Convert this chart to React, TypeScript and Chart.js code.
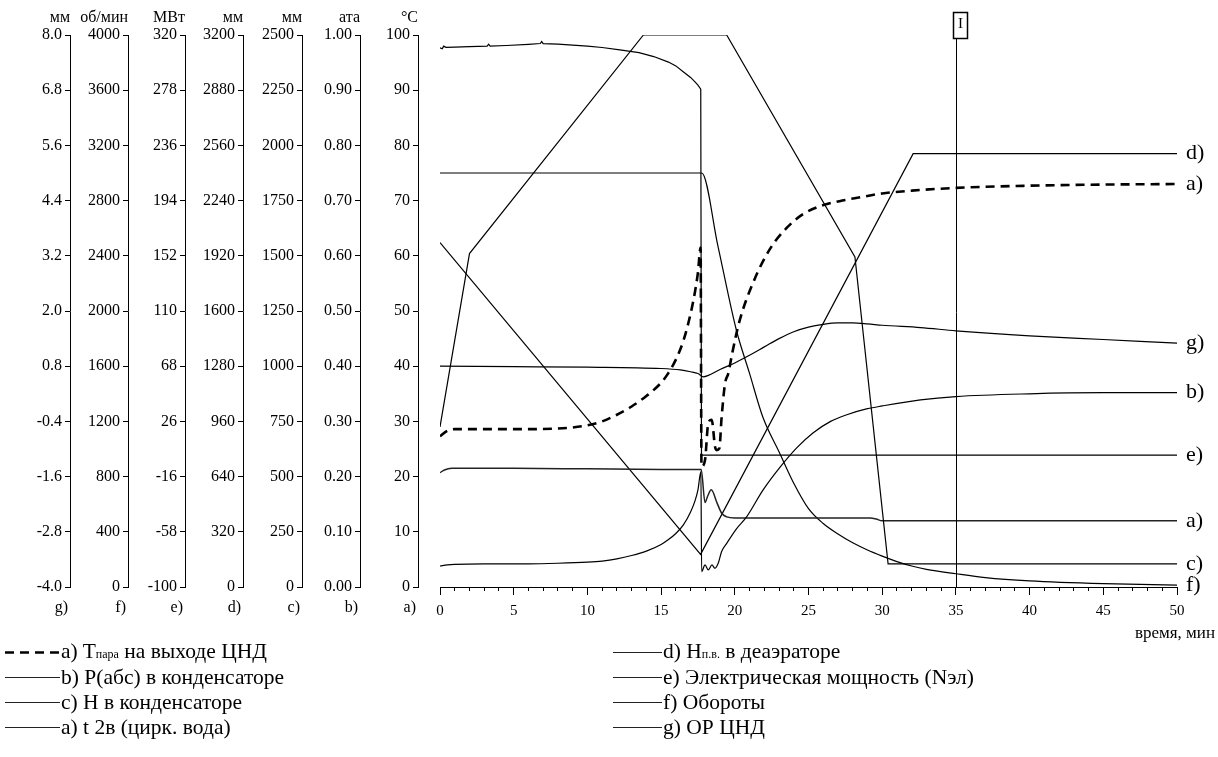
import React, { useEffect, useRef } from "react";
import { Chart, registerables } from "chart.js";
Chart.register(...registerables);

const FONT = "'Liberation Serif', 'Times New Roman', serif";

// ---- axis tick labels ----
const timeTicks = [0, 5, 10, 15, 20, 25, 30, 35, 40, 45, 50];
const timeMinorTicks = Array.from({ length: 51 }, (_, i) => i);
const gTicks = [-4.0, -2.8, -1.6, -0.4, 0.8, 2.0, 3.2, 4.4, 5.6, 6.8, 8.0];
const fTicks = [0, 400, 800, 1200, 1600, 2000, 2400, 2800, 3200, 3600, 4000];
const eTicks = [-100, -58, -16, 26, 68, 110, 152, 194, 236, 278, 320];
const dTicks = [0, 320, 640, 960, 1280, 1600, 1920, 2240, 2560, 2880, 3200];
const cTicks = [0, 250, 500, 750, 1000, 1250, 1500, 1750, 2000, 2250, 2500];
const bTicks = [0, 0.1, 0.2, 0.3, 0.4, 0.5, 0.6, 0.7, 0.8, 0.9, 1.0];
const aTicks = [0, 10, 20, 30, 40, 50, 60, 70, 80, 90, 100];

// ---- series ----
// a) T пара на выходе ЦНД, °C
const steamTime = [0, 0.5, 1, 3, 6, 8, 9, 10, 11, 12, 13, 14, 15, 15.5, 16, 16.5, 17, 17.3, 17.5, 17.68, 17.74, 17.98, 18.2, 18.43, 18.66, 18.77, 18.95, 19.11, 19.34, 19.56, 19.8, 20.3, 21.3, 22.4, 23.5, 24.6, 25.8, 27.1, 28.5, 30, 32, 35, 40, 45, 50];
const steamTemp = [27.3, 28.3, 28.6, 28.6, 28.6, 28.7, 28.9, 29.3, 30.0, 31.2, 32.7, 34.6, 37.0, 38.8, 41.2, 44.5, 49.5, 53.5, 57.0, 61.5, 21.8, 23.0, 29.7, 30.3, 25.4, 24.8, 25.1, 30.9, 36.9, 38.7, 42.0, 48.0, 55.5, 61.3, 65.0, 67.5, 69.0, 69.9, 70.6, 71.3, 71.8, 72.3, 72.7, 72.9, 73.0];
// b) P(абс) в конденсаторе, ата
const presTime = [0, 0.5, 1, 3, 6, 8, 10, 11, 12, 13, 14, 15, 15.5, 16, 16.5, 17, 17.3, 17.5, 17.7, 17.75, 17.98, 18.2, 18.45, 18.65, 18.9, 19.1, 19.45, 20.1, 20.8, 21.9, 23.1, 24.2, 25.3, 26.5, 27.6, 29.0, 30.0, 32.6, 35, 40, 45, 50];
const presAta = [0.038, 0.040, 0.041, 0.042, 0.042, 0.043, 0.045, 0.047, 0.051, 0.057, 0.065, 0.077, 0.086, 0.097, 0.112, 0.136, 0.156, 0.176, 0.209, 0.028, 0.040, 0.031, 0.040, 0.034, 0.045, 0.064, 0.079, 0.105, 0.127, 0.175, 0.218, 0.252, 0.279, 0.300, 0.312, 0.323, 0.328, 0.339, 0.345, 0.350, 0.352, 0.352];
// c) H в конденсаторе, мм
const levelTime = [0, 2, 13.8, 19.45, 28.15, 30.4, 50];
const levelMm = [725, 1510, 2500, 2500, 1495, 105, 105];
// a) t 2в (цирк. вода), °C
const waterTime = [0, 0.3, 0.8, 5, 10, 15, 17, 17.72, 17.98, 18.15, 18.4, 18.8, 19.1, 19.45, 20, 25, 29.2, 29.6, 30.0, 35, 40, 50];
const waterTemp = [20.7, 21.2, 21.5, 21.5, 21.4, 21.3, 21.3, 21.3, 15.3, 16.4, 17.6, 15.2, 13.4, 12.7, 12.5, 12.5, 12.5, 12.3, 12.0, 12.0, 12.0, 12.0];
// d) H п.в. в деаэраторе, мм
const deaTime = [0, 17.68, 32.1, 50];
const deaMm = [1997, 189, 2512, 2512];
// e) Электрическая мощность, МВт
const powerTime = [0, 0.15, 0.25, 0.4, 1, 2, 3.2, 3.3, 3.4, 4.5, 6, 6.8, 6.9, 7.0, 8, 10, 11, 12.2, 13.5, 14.5, 15.5, 16, 16.5, 17, 17.3, 17.5, 17.69, 17.74, 50];
const powerMw = [310.3, 309.5, 311.5, 310.6, 310.8, 311.2, 311.6, 313.0, 311.6, 312.0, 312.9, 313.5, 315.0, 313.5, 313.0, 311.6, 310.5, 308.7, 306.6, 303.6, 299.4, 296.5, 292.1, 287.7, 284.3, 281.8, 278.8, 0.4, 0.4];
// f) Обороты, об/мин
const rpmTime = [0, 17.76, 18.86, 20.1, 21, 21.9, 23, 24, 25, 26, 27, 28, 29, 30, 31, 32, 33, 35, 37, 40, 45, 50];
const rpmVal = [3000, 3000, 2468, 1864, 1548, 1232, 980, 752, 568, 460, 384, 320, 268, 224, 184, 152, 128, 96, 68, 44, 24, 14];
// g) ОР ЦНД, мм
const expTime = [0, 5, 10, 15, 16.3, 17, 17.5, 17.86, 18.2, 19, 20, 21, 22, 23, 24, 25, 26, 27, 28, 29, 30, 32.6, 35, 40, 45, 50];
const expMm = [0.80, 0.79, 0.78, 0.75, 0.72, 0.68, 0.64, 0.57, 0.60, 0.73, 0.87, 1.04, 1.22, 1.40, 1.55, 1.65, 1.71, 1.74, 1.74, 1.72, 1.69, 1.64, 1.57, 1.46, 1.38, 1.30];

const markerTime = 35;
const markerLabel = "I";

const axisUnits = ["мм", "об/мин", "МВт", "мм", "мм", "ата", "°C"];
const axisLetters = ["g)", "f)", "e)", "d)", "c)", "b)", "a)"];
const axisIds = ["yG", "yF", "yE", "yD", "yC", "yB", "yA"];
const axisWidths = [70, 58, 57, 58, 59, 58, 58];

const pts = (t: number[], v: number[]) => t.map((x, i) => ({ x, y: v[i] }));

const yAxis = (ticks: number[], decimals: number, weight: number, width: number) => ({
  type: "linear",
  position: "left",
  weight,
  min: ticks[0],
  max: ticks[ticks.length - 1],
  afterBuildTicks: (s: any) => {
    s.ticks = ticks.map((v) => ({ value: v }));
  },
  afterFit: (s: any) => {
    s.width = width;
  },
  ticks: {
    autoSkip: false,
    padding: 3,
    color: "#000",
    font: { family: FONT, size: 16 },
    callback: (v: any) => Number(v).toFixed(decimals),
  },
  grid: { drawOnChartArea: false, tickLength: 5, color: "#000", lineWidth: 1 },
  border: { display: true, color: "#000", width: 1 },
});

const annotPlugin = {
  id: "annot",
  afterDraw(chart: any) {
    const ctx = chart.ctx;
    const area = chart.chartArea;
    ctx.save();
    ctx.fillStyle = "#000";
    ctx.strokeStyle = "#000";
    // units & letters
    axisIds.forEach((id, i) => {
      const s = chart.scales[id];
      ctx.textAlign = "right";
      ctx.textBaseline = "alphabetic";
      ctx.font = `16px ${FONT}`;
      ctx.fillText(axisUnits[i], s.right, 22);
      ctx.fillText(axisLetters[i], s.right - 2, 612);
    });
    // end labels
    ctx.font = `22px ${FONT}`;
    ctx.textAlign = "left";
    ctx.textBaseline = "middle";
    chart.data.datasets.forEach((ds: any) => {
      const last = ds.data[ds.data.length - 1];
      const y = chart.scales[ds.yAxisID].getPixelForValue(last.y);
      ctx.fillText(ds.endLabel, area.right + 9, y);
    });
    // marker
    const mx = Math.round(chart.scales.x.getPixelForValue(markerTime)) + 0.5;
    ctx.lineWidth = 1;
    ctx.beginPath();
    ctx.moveTo(mx, 38);
    ctx.lineTo(mx, area.bottom);
    ctx.stroke();
    ctx.lineWidth = 1.5;
    ctx.strokeRect(mx - 3, 12.5, 14, 26);
    ctx.font = `15px ${FONT}`;
    ctx.textAlign = "center";
    ctx.textBaseline = "middle";
    ctx.fillText(markerLabel, mx + 4, 24);
    // time title
    ctx.font = `17px ${FONT}`;
    ctx.textAlign = "right";
    ctx.fillText("время, мин", 1215, 634);
    ctx.restore();
  },
};

const legendLeft = [
  { dashed: true, pre: "a) T", sub: "пара", post: " на выходе ЦНД" },
  { dashed: false, pre: "b) P(абс) в конденсаторе", sub: "", post: "" },
  { dashed: false, pre: "c) H в конденсаторе", sub: "", post: "" },
  { dashed: false, pre: "a) t 2в (цирк. вода)", sub: "", post: "" },
];
const legendRight = [
  { dashed: false, pre: "d) H", sub: "п.в.", post: " в деаэраторе" },
  { dashed: false, pre: "e) Электрическая мощность (Nэл)", sub: "", post: "" },
  { dashed: false, pre: "f) Обороты", sub: "", post: "" },
  { dashed: false, pre: "g) ОР ЦНД", sub: "", post: "" },
];
const legendRowsY = [652, 677, 702, 727];

function LegendRow({ item, x, y, sample }: any) {
  return (
    <div style={{ position: "absolute", left: x, top: y - 12, height: 24, display: "flex", alignItems: "center", whiteSpace: "nowrap", fontFamily: FONT, fontSize: 21.5, color: "#000", lineHeight: "24px" }}>
      <svg width={sample} height={24} style={{ display: "block" }}>
        {item.dashed ? (
          <line x1={1} y1={12.5} x2={sample - 1} y2={12.5} stroke="#000" strokeWidth={2.6} strokeDasharray="9,6" />
        ) : (
          <line x1={1} y1={12.5} x2={sample - 1} y2={12.5} stroke="#222" strokeWidth={1} />
        )}
      </svg>
      <span>
        {item.pre}
        {item.sub ? <span style={{ fontSize: 12 }}>{item.sub}</span> : null}
        {item.post}
      </span>
    </div>
  );
}

export default function App() {
  const ref = useRef<HTMLCanvasElement>(null);
  useEffect(() => {
    if (!ref.current) return;
    const base = { borderColor: "#000", borderWidth: 1.2, pointRadius: 0, fill: false, cubicInterpolationMode: "monotone" };
    const chart = new Chart(ref.current, {
      type: "line",
      data: {
        datasets: [
          { ...base, label: "a) Tпара на выходе ЦНД", endLabel: "a)", data: pts(steamTime, steamTemp), yAxisID: "yA", borderWidth: 2.6, borderDash: [9, 6] },
          { ...base, label: "b) P(абс) в конденсаторе", endLabel: "b)", data: pts(presTime, presAta), yAxisID: "yB" },
          { ...base, label: "c) H в конденсаторе", endLabel: "c)", data: pts(levelTime, levelMm), yAxisID: "yC", cubicInterpolationMode: "default", tension: 0 },
          { ...base, label: "a) t 2в (цирк. вода)", endLabel: "a)", data: pts(waterTime, waterTemp), yAxisID: "yA", borderColor: "#222", borderWidth: 1.5 },
          { ...base, label: "d) Hп.в. в деаэраторе", endLabel: "d)", data: pts(deaTime, deaMm), yAxisID: "yD", cubicInterpolationMode: "default", tension: 0 },
          { ...base, label: "e) Электрическая мощность (Nэл)", endLabel: "e)", data: pts(powerTime, powerMw), yAxisID: "yE", cubicInterpolationMode: "default", tension: 0 },
          { ...base, label: "f) Обороты", endLabel: "f)", data: pts(rpmTime, rpmVal), yAxisID: "yF" },
          { ...base, label: "g) ОР ЦНД", endLabel: "g)", data: pts(expTime, expMm), yAxisID: "yG" },
        ] as any,
      },
      options: {
        animation: false,
        responsive: false,
        devicePixelRatio: 1,
        parsing: true,
        layout: { padding: { left: 0, right: 41, top: 35, bottom: 33 } },
        plugins: { legend: { display: false }, tooltip: { enabled: false } },
        scales: {
          x: {
            type: "linear",
            position: "bottom",
            weight: 1,
            min: 0,
            max: 50,
            afterBuildTicks: (s: any) => {
              s.ticks = timeTicks.map((v) => ({ value: v }));
            },
            afterFit: (s: any) => {
              s.height = 40;
            },
            ticks: { autoSkip: false, maxRotation: 0, padding: 7, color: "#000", font: { family: FONT, size: 15 }, callback: (v: any) => String(v) },
            grid: { drawOnChartArea: false, tickLength: 8, color: "#000" },
            border: { display: true, color: "#000", width: 1 },
          },
          xMinor: {
            type: "linear",
            position: "bottom",
            weight: 0,
            min: 0,
            max: 50,
            afterBuildTicks: (s: any) => {
              s.ticks = timeMinorTicks.map((v) => ({ value: v }));
            },
            afterFit: (s: any) => {
              s.height = 0;
            },
            ticks: { display: false },
            grid: { drawOnChartArea: false, tickLength: 4, color: "#000" },
            border: { display: false },
          },
          yG: yAxis(gTicks, 1, 7, axisWidths[0]),
          yF: yAxis(fTicks, 0, 6, axisWidths[1]),
          yE: yAxis(eTicks, 0, 5, axisWidths[2]),
          yD: yAxis(dTicks, 0, 4, axisWidths[3]),
          yC: yAxis(cTicks, 0, 3, axisWidths[4]),
          yB: yAxis(bTicks, 2, 2, axisWidths[5]),
          yA: yAxis(aTicks, 0, 1, axisWidths[6]),
          ySpacer: {
            type: "linear",
            position: "left",
            weight: 0,
            min: 0,
            max: 1,
            afterFit: (s: any) => {
              s.width = 22;
            },
            ticks: { display: false },
            grid: { display: false },
            border: { display: false },
          },
        } as any,
      },
      plugins: [annotPlugin],
    } as any);
    return () => chart.destroy();
  }, []);

  return (
    <div style={{ position: "absolute", left: 0, top: 0, width: 1218, height: 757, background: "#fff" }}>
      <canvas ref={ref} width={1218} height={660} style={{ position: "absolute", left: 0, top: 0, width: 1218, height: 660 }} />
      {legendLeft.map((it, i) => (
        <LegendRow key={"l" + i} item={it} x={4} y={legendRowsY[i]} sample={57} />
      ))}
      {legendRight.map((it, i) => (
        <LegendRow key={"r" + i} item={it} x={612} y={legendRowsY[i]} sample={51} />
      ))}
    </div>
  );
}
